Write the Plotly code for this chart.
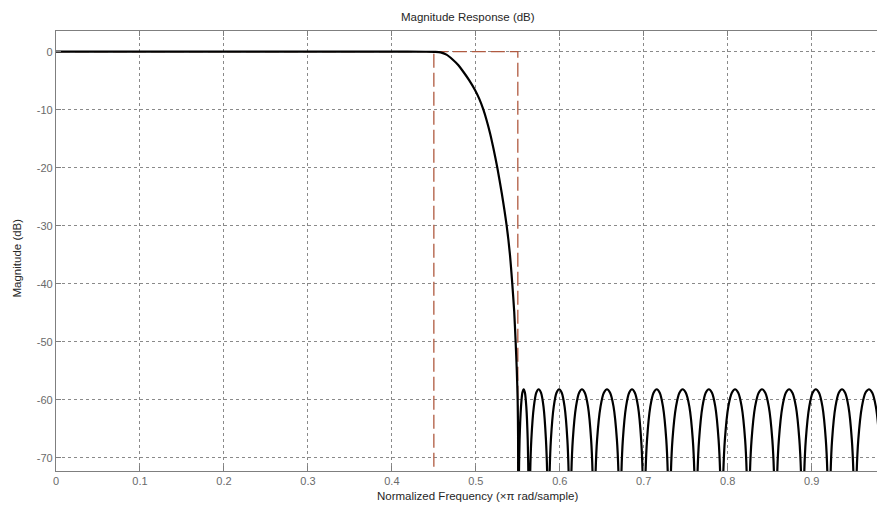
import plotly.graph_objects as go

# ---- data ----
# passband + transition band (normalized frequency, dB)
pass_freq = [0.0, 0.1, 0.2, 0.3, 0.4, 0.44, 0.452, 0.458, 0.465, 0.472, 0.479, 0.4853,
             0.492, 0.499, 0.504, 0.509, 0.513, 0.517, 0.521, 0.5256, 0.531, 0.5367,
             0.5405, 0.5434, 0.5457, 0.5474, 0.5488, 0.5498, 0.5503, 0.5506]
pass_db = [0.0, 0.0, 0.0, 0.0, 0.0, -0.01, -0.04, -0.12, -0.5, -1.3, -2.3, -3.5,
           -4.9, -6.6, -8.1, -10.0, -11.9, -14.1, -16.7, -20.0, -24.5, -30.0,
           -34.8, -40.0, -44.8, -50.0, -55.0, -60.0, -66.0, -100.0]

# stopband lobes (each lobe: 9 points then the null)
stop_freq = [
    0.5512, 0.5521, 0.5538, 0.5554, 0.5570, 0.5585, 0.5601, 0.5618, 0.5627, 0.5633,
    0.5645, 0.5661, 0.5691, 0.5720, 0.5748, 0.5776, 0.5806, 0.5835, 0.5852, 0.5863,
    0.5876, 0.5894, 0.5928, 0.5961, 0.5992, 0.6023, 0.6057, 0.6090, 0.6108, 0.6121,
    0.6135, 0.6155, 0.6193, 0.6230, 0.6264, 0.6298, 0.6336, 0.6373, 0.6393, 0.6407,
    0.6423, 0.6444, 0.6485, 0.6525, 0.6562, 0.6599, 0.6640, 0.6680, 0.6702, 0.6717,
    0.6731, 0.6751, 0.6789, 0.6826, 0.6860, 0.6894, 0.6932, 0.6969, 0.6989, 0.7003,
    0.7018, 0.7039, 0.7078, 0.7117, 0.7154, 0.7190, 0.7229, 0.7268, 0.7289, 0.7304,
    0.7320, 0.7342, 0.7384, 0.7425, 0.7463, 0.7501, 0.7543, 0.7584, 0.7606, 0.7622,
    0.7637, 0.7659, 0.7699, 0.7738, 0.7775, 0.7812, 0.7852, 0.7891, 0.7913, 0.7928,
    0.7944, 0.7966, 0.8007, 0.8049, 0.8087, 0.8125, 0.8166, 0.8207, 0.8229, 0.8245,
    0.8261, 0.8284, 0.8326, 0.8369, 0.8408, 0.8447, 0.8489, 0.8531, 0.8554, 0.8570,
    0.8586, 0.8609, 0.8651, 0.8692, 0.8731, 0.8770, 0.8812, 0.8853, 0.8876, 0.8892,
    0.8908, 0.8930, 0.8971, 0.9011, 0.9049, 0.9087, 0.9128, 0.9168, 0.9190, 0.9206,
    0.9222, 0.9243, 0.9283, 0.9323, 0.9361, 0.9398, 0.9438, 0.9478, 0.9500, 0.9515,
    0.9532, 0.9555, 0.9598, 0.9640, 0.9681, 0.9721, 0.9764, 0.9806, 0.9831, 0.9848,
    0.9856, 0.9866, 0.9900, 1.0000,
]
stop_db = [
    -74.3, -66.9, -61.2, -58.8, -58.2, -58.8, -61.2, -66.9, -74.3, -100.0,
    -74.3, -66.9, -61.2, -58.8, -58.2, -58.8, -61.2, -66.9, -74.3, -100.0,
    -74.3, -66.9, -61.2, -58.8, -58.2, -58.8, -61.2, -66.9, -74.3, -100.0,
    -74.3, -66.9, -61.2, -58.8, -58.2, -58.8, -61.2, -66.9, -74.3, -100.0,
    -74.3, -66.9, -61.2, -58.8, -58.2, -58.8, -61.2, -66.9, -74.3, -100.0,
    -74.3, -66.9, -61.2, -58.8, -58.2, -58.8, -61.2, -66.9, -74.3, -100.0,
    -74.3, -66.9, -61.2, -58.8, -58.2, -58.8, -61.2, -66.9, -74.3, -100.0,
    -74.3, -66.9, -61.2, -58.8, -58.2, -58.8, -61.2, -66.9, -74.3, -100.0,
    -74.3, -66.9, -61.2, -58.8, -58.2, -58.8, -61.2, -66.9, -74.3, -100.0,
    -74.3, -66.9, -61.2, -58.8, -58.2, -58.8, -61.2, -66.9, -74.3, -100.0,
    -74.3, -66.9, -61.2, -58.8, -58.2, -58.8, -61.2, -66.9, -74.3, -100.0,
    -74.3, -66.9, -61.2, -58.8, -58.2, -58.8, -61.2, -66.9, -74.3, -100.0,
    -74.3, -66.9, -61.2, -58.8, -58.2, -58.8, -61.2, -66.9, -74.3, -100.0,
    -74.3, -66.9, -61.2, -58.8, -58.2, -58.8, -61.2, -66.9, -74.3, -100.0,
    -74.3, -66.9, -61.2, -58.8, -58.2, -58.8, -61.2, -66.9, -74.3, -100.0,
    -74.0, -66.0, -60.0, -58.2,
]

# specification mask
mask_a_freq = [0.0, 0.45, 0.45]
mask_a_db = [0.0, 0.0, -100.0]
mask_b_freq = [0.45, 0.55, 0.55]
mask_b_db = [0.0, 0.0, -100.0]

x_ticks = [0, 0.1, 0.2, 0.3, 0.4, 0.5, 0.6, 0.7, 0.8, 0.9]
x_labels = ["0", "0.1", "0.2", "0.3", "0.4", "0.5", "0.6", "0.7", "0.8", "0.9"]
y_ticks = [0, -10, -20, -30, -40, -50, -60, -70]
y_labels = ["0", "-10", "-20", "-30", "-40", "-50", "-60", "-70"]

MASK = "#b05a40"
FONT = "Liberation Sans, Arial, sans-serif"

fig = go.Figure()
for mf, md in ((mask_a_freq, mask_a_db), (mask_b_freq, mask_b_db)):
    fig.add_trace(go.Scatter(x=mf, y=md, mode="lines",
                             line=dict(color=MASK, width=1.3, dash="14px,5px"),
                             hoverinfo="skip", showlegend=False))

fig.add_trace(go.Scatter(x=pass_freq + stop_freq, y=pass_db + stop_db, mode="lines",
                         line=dict(color="black", width=2.2, shape="spline", smoothing=0.6),
                         showlegend=False))

axis_common = dict(showline=True, linecolor="#7f7f7f", linewidth=1.3,
                   ticks="inside", ticklen=5, tickcolor="#7f7f7f", tickwidth=1,
                   showgrid=True, gridcolor="#8a8a8a", gridwidth=1, griddash="3px,3px",
                   zeroline=False, tickfont=dict(family=FONT, size=11, color="#6a6a6a"))

fig.update_xaxes(range=[0, 0.9873], tickvals=x_ticks, ticktext=x_labels,
                 mirror="ticks", **axis_common)
fig.update_yaxes(range=[-72.3, 3.57], tickvals=y_ticks, ticktext=y_labels,
                 mirror=False, **axis_common)

# the page body adds an 8px offset, so the figure is sized/margined to compensate
fig.update_layout(
    width=877, height=499,
    margin=dict(l=48, r=0, t=23, b=36, pad=0),
    paper_bgcolor="white", plot_bgcolor="white",
    font=dict(family=FONT, size=11, color="#262626"),
    annotations=[
        dict(text="Magnitude Response (dB)", xref="paper", yref="paper",
             x=0.497, y=1.031, showarrow=False, xanchor="center", yanchor="middle",
             font=dict(family=FONT, size=11.5, color="#262626")),
        dict(text="Normalized Frequency (\u00d7\u03c0 rad/sample)", xref="paper", yref="paper",
             x=0.508, y=-0.0575, showarrow=False, xanchor="center", yanchor="middle",
             font=dict(family=FONT, size=11.5, color="#262626")),
        dict(text="Magnitude (dB)", xref="paper", yref="paper",
             x=-0.047, y=0.483, showarrow=False, xanchor="center", yanchor="middle",
             textangle=-90, font=dict(family=FONT, size=11.5, color="#262626")),
    ],
)

fig.write_html("out.html")
